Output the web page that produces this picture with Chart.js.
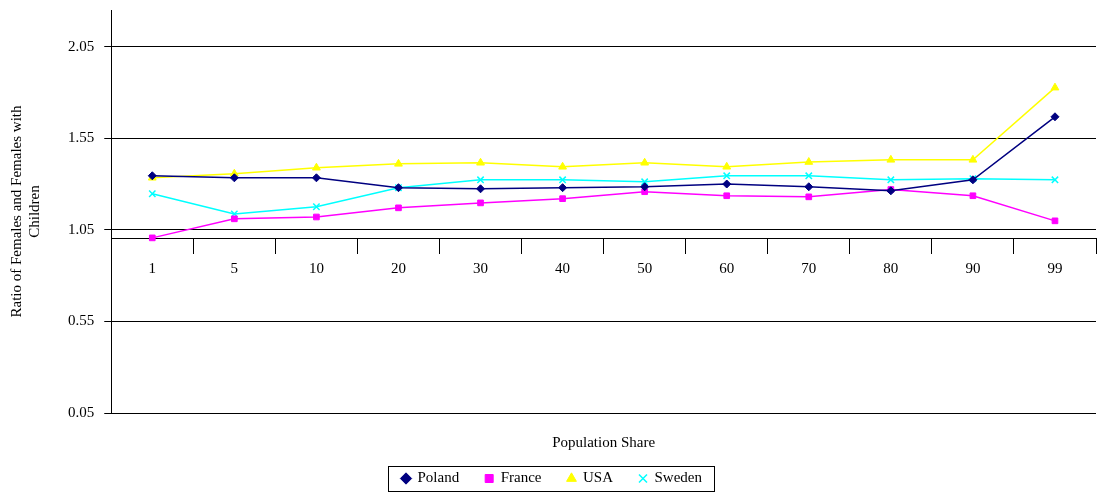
<!DOCTYPE html>
<html>
<head>
<meta charset="utf-8">
<script src="https://cdn.jsdelivr.net/npm/chart.js@4"></script>
<style>
  body { margin: 0; background: #fff; }
  #wrap { width: 1102px; height: 496px; }
</style>
</head>
<body>
<div id="wrap"><canvas id="chart-area"></canvas></div>
<script>
var categories = ['1', '5', '10', '20', '30', '40', '50', '60', '70', '80', '90', '99'];
var poland = [1.345, 1.334, 1.334, 1.28, 1.274, 1.28, 1.285, 1.30, 1.285, 1.263, 1.323, 1.667];
var france = [1.006, 1.11, 1.12, 1.17, 1.197, 1.22, 1.258, 1.236, 1.23, 1.27, 1.236, 1.099];
var usa = [1.334, 1.356, 1.389, 1.41, 1.416, 1.394, 1.416, 1.394, 1.42, 1.432, 1.432, 1.826];
var sweden = [1.247, 1.137, 1.176, 1.28, 1.323, 1.323, 1.312, 1.345, 1.345, 1.323, 1.329, 1.323];
var yTicks = [0.05, 0.55, 1.05, 1.55, 2.05];

var serif = 'Liberation Serif, Times New Roman, serif';

function series(label, data, color, style, radius) {
    return {
        label: label,
        data: data,
        borderColor: color,
        backgroundColor: color,
        borderWidth: 1.5,
        pointStyle: style,
        pointRadius: radius,
        pointBorderWidth: style === 'crossRot' ? 1.5 : 1,
        tension: 0
    };
}

// x title + legend frame
var extras = {
    id: 'extras',
    afterDraw: function(chart) {
        var ctx = chart.ctx;
        ctx.save();
        ctx.fillStyle = '#000';
        ctx.font = '15px ' + serif;
        ctx.textAlign = 'center';
        ctx.textBaseline = 'middle';
        ctx.fillText('Population Share', (chart.chartArea.left + chart.chartArea.right) / 2, 443);
        var boxes = chart.legend.legendHitBoxes;
        if (boxes && boxes.length) {
            var l = Infinity, r = -Infinity, t = Infinity, b = -Infinity;
            boxes.forEach(function(h) {
                l = Math.min(l, h.left); r = Math.max(r, h.left + h.width);
                t = Math.min(t, h.top); b = Math.max(b, h.top + h.height);
            });
            ctx.strokeStyle = '#000';
            ctx.lineWidth = 1;
            ctx.strokeRect(Math.round(l - 14) + 0.5, Math.round(t - 5) + 0.5, Math.round(r - l + 26), Math.round(b - t + 10));
        }
        ctx.restore();
    }
};

function noPad(scale) {
    scale.paddingTop = 0;
    scale.paddingBottom = 0;
}

var config = {
    type: 'line',
    data: {
        labels: categories,
        datasets: [
            series('Poland', poland, '#000080', 'rectRot', 4),
            series('France', france, '#FF00FF', 'rect', 4),
            series('USA', usa, '#FFFF00', 'triangle', 4.5),
            series('Sweden', sweden, '#00FFFF', 'crossRot', 4.5)
        ]
    },
    options: {
        responsive: true,
        maintainAspectRatio: false,
        animation: false,
        layout: { padding: { left: 4, right: 2, top: 10, bottom: 0 } },
        plugins: {
            legend: {
                position: 'bottom',
                title: { display: true, text: ' ', padding: { top: 14, bottom: 0 }, font: { family: serif, size: 15 } },
                labels: {
                    usePointStyle: true,
                    boxWidth: 8,
                    boxHeight: 8,
                    padding: 26,
                    color: '#000',
                    font: { family: serif, size: 15 }
                }
            },
            tooltip: { enabled: false }
        },
        scales: {
            x: {
                position: { y: 1.0 },
                offset: true,
                afterFit: noPad,
                grid: { display: true, drawOnChartArea: false, offset: true, color: '#000', tickLength: 15 },
                border: { color: '#000' },
                ticks: { color: '#000', font: { family: serif, size: 15 }, padding: 6 }
            },
            y: {
                min: 0.05,
                max: 2.25,
                afterFit: noPad,
                afterBuildTicks: function(axis) {
                    axis.ticks = yTicks.map(function(v) { return { value: v }; });
                },
                ticks: {
                    color: '#000',
                    font: { family: serif, size: 15 },
                    padding: 10,
                    callback: function(v) { return Number(v).toFixed(2); }
                },
                grid: { color: '#000', tickLength: 7 },
                border: { color: '#000' },
                title: {
                    display: true,
                    text: ['Ratio of Females and Females with', 'Children'],
                    color: '#000',
                    font: { family: serif, size: 15 },
                    padding: { bottom: 14 }
                }
            }
        }
    },
    plugins: [extras]
};

window.onload = function() {
    var ctx = document.getElementById('chart-area').getContext('2d');
    window.myLine = new Chart(ctx, config);
};
</script>
</body>
</html>
